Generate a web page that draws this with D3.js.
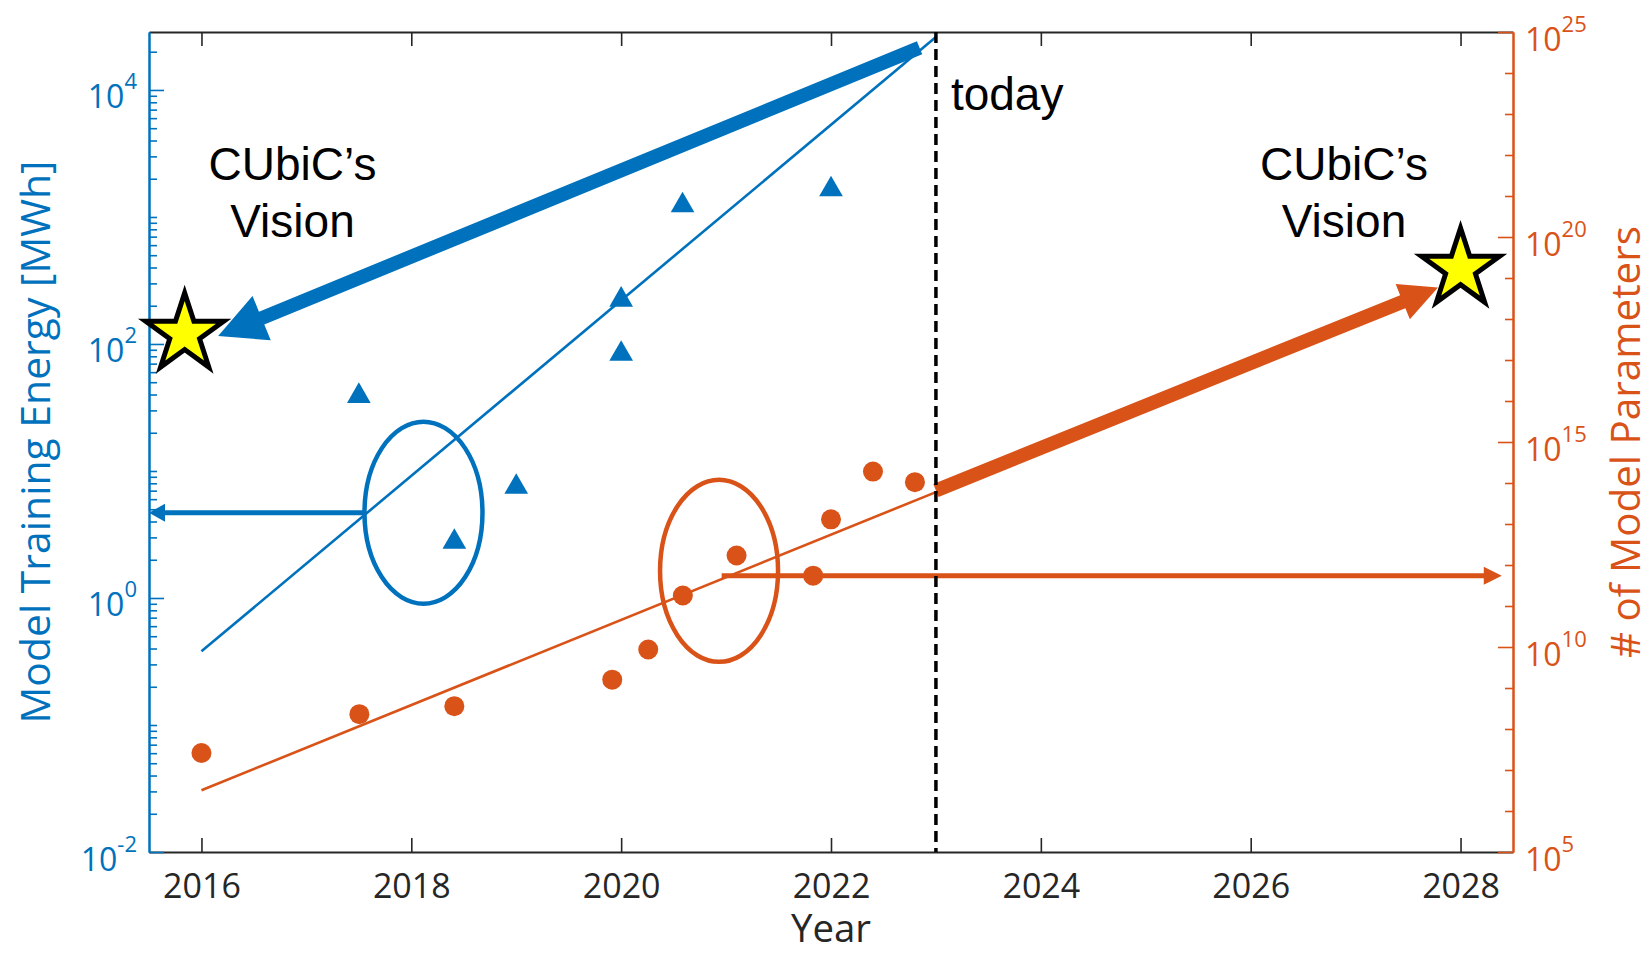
<!DOCTYPE html>
<html>
<head>
<meta charset="utf-8">
<script src="https://cdn.jsdelivr.net/npm/d3@7"></script>
<style>
  html, body { margin: 0; padding: 0; background: #ffffff; }
  svg { display: block; }
</style>
</head>
<body>
<svg id="chart" width="1652" height="955"></svg>
<script>
// ---------------- data ----------------
const xTickYears = [2016, 2018, 2020, 2022, 2024, 2026, 2028];
const energyMajorExps = [-2, 0, 2, 4];
const paramMajorExps = [5, 10, 15, 20, 25];

// Training energy of individual models (MWh)
const energyYears = [2017.5, 2018.41, 2019.0, 2020.0, 2020.0, 2020.585, 2022.0];
const energyMWh   = [41.4, 2.94, 7.96, 237, 89, 1312, 1754];

// Parameter counts of individual models
const paramYears  = [2016.0, 2017.505, 2018.41, 2019.915, 2020.258, 2020.588, 2021.10, 2021.83, 2022.0, 2022.40, 2022.80];
const paramCounts = [2.6e7, 2.3e8, 3.6e8, 1.6e9, 8.7e9, 1.8e11, 1.7e12, 5.5e11, 1.3e13, 1.9e14, 1.05e14];

// Exponential trend lines (end points)
const fitYears  = [2016, 2023];
const energyFit = [0.38, 26100];
const paramFit  = [3.2e6, 6.0e13];

const todayYear = 2023;

// Vision targets (stars)
const energyTarget = [2015.84, 120];
const paramTarget  = [2028.0, 1.66e19];

// Thick arrows from today's trend to the vision targets
const energyArrowYears = [2022.844, 2016.159];
const energyArrowVals  = [21480, 115.6];
const paramArrowYears  = [2023.0, 2027.785];
const paramArrowVals   = [6.6e13, 5.9e18];

// Callout ellipses pointing each trend to its own axis
const energyCalloutYear = 2018.116;
const energyCalloutVal  = 4.69;
const energyPointerYears = [2017.549, 2015.5];
const paramCalloutYear  = 2020.933;
const paramCalloutVal   = 7.2e11;
const paramPointerYears = [2020.958, 2028.393];
const paramPointerVal   = 5.5e11;

// ---------------- layout ----------------
const BLUE = "#0072BD", ORANGE = "#D95319", AXIS = "#262626";
const P = { left: 149, right: 1513, top: 32, bottom: 852 };
const TICK_FONT = "'Open Sans', 'Noto Sans', sans-serif";

const svg = d3.select("#chart");

const x  = d3.scaleLinear().domain([2015.5, 2028.5]).range([P.left, P.right]);
const yE = d3.scaleLog().domain([1e-2, 2.86e4]).range([P.bottom, P.top]);
const yP = d3.scaleLog().domain([1e5, 1e25]).range([P.bottom, P.top]);

// ---------------- axes ----------------
function styleAxis(g, color, width) {
  g.selectAll("path.domain").attr("stroke", color).attr("stroke-width", width);
  g.selectAll(".tick line").attr("stroke", color).attr("stroke-width", 1.6);
}

// bottom and top (box) x axes
const gxB = svg.append("g").attr("transform", `translate(0,${P.bottom})`)
  .call(d3.axisBottom(x).tickValues(xTickYears).tickSizeInner(-14).tickSizeOuter(0)
        .tickPadding(22).tickFormat(d3.format("d")));
styleAxis(gxB, AXIS, 2);
gxB.selectAll("text").attr("fill", AXIS).style("font-family", TICK_FONT).style("font-size", "34px");

const gxT = svg.append("g").attr("transform", `translate(0,${P.top})`)
  .call(d3.axisTop(x).tickValues(xTickYears).tickSizeInner(-14).tickSizeOuter(0).tickFormat(""));
styleAxis(gxT, AXIS, 2);

// left axis: minor ticks for every 1..9 x 10^k, major ticks at even decades
const energyMinor = [];
for (let e = -2; e <= 4; e++) for (let m = 1; m <= 9; m++) {
  const v = m * Math.pow(10, e);
  if (v <= yE.domain()[1] && !(m === 1 && energyMajorExps.includes(e))) energyMinor.push(v);
}
const gyLminor = svg.append("g").attr("transform", `translate(${P.left},0)`)
  .call(d3.axisLeft(yE).tickValues(energyMinor).tickSizeInner(-8).tickSizeOuter(0).tickFormat(""));
styleAxis(gyLminor, BLUE, 2);
const gyL = svg.append("g").attr("transform", `translate(${P.left},0)`)
  .call(d3.axisLeft(yE).tickValues(energyMajorExps.map(e => Math.pow(10, e)))
        .tickSizeInner(-15).tickSizeOuter(0).tickFormat(""));
styleAxis(gyL, BLUE, 2);

// right axis: minor ticks each decade, major every five decades
const paramMinor = d3.range(5, 26).filter(e => !paramMajorExps.includes(e)).map(e => Math.pow(10, e));
const gyRminor = svg.append("g").attr("transform", `translate(${P.right},0)`)
  .call(d3.axisRight(yP).tickValues(paramMinor).tickSizeInner(-8).tickSizeOuter(0).tickFormat(""));
styleAxis(gyRminor, ORANGE, 2);
const gyR = svg.append("g").attr("transform", `translate(${P.right},0)`)
  .call(d3.axisRight(yP).tickValues(paramMajorExps.map(e => Math.pow(10, e)))
        .tickSizeInner(-15).tickSizeOuter(0).tickFormat(""));
styleAxis(gyR, ORANGE, 2);

// power-of-ten labels with superscript exponents
function powLabels(exps, scale, xPos, anchor, color) {
  const t = svg.append("g").selectAll("text").data(exps).join("text")
    .attr("x", xPos)
    .attr("y", e => scale(Math.pow(10, e)) + 18.5)
    .attr("text-anchor", anchor)
    .attr("fill", color)
    .style("font-family", TICK_FONT)
    .style("font-size", "32px");
  t.append("tspan").text("10");
  t.append("tspan").attr("dy", -19).style("font-size", "22px").text(e => String(e));
}
powLabels(energyMajorExps, yE, 137, "end", BLUE);
powLabels(paramMajorExps, yP, 1525, "start", ORANGE);

// axis titles, sized to fill their spans
function axisTitle(text, tx, ty, rot, color, targetLen) {
  const t = svg.append("text")
    .attr("transform", `translate(${tx},${ty}) rotate(${rot})`)
    .attr("text-anchor", "middle")
    .attr("fill", color)
    .style("font-family", TICK_FONT)
    .style("font-size", "40px")
    .text(text);
  if (targetLen) {
    const len = t.node().getComputedTextLength();
    t.style("font-size", (40 * targetLen / len).toFixed(2) + "px");
  }
  return t;
}
axisTitle("Model Training Energy [MWh]", 50, 442, -90, BLUE, 563);
axisTitle("# of Model Parameters", 1640, 442, -90, ORANGE, 432);
axisTitle("Year", (P.left + P.right) / 2, 942, 0, AXIS, 80);

// ---------------- trend lines ----------------
svg.append("path")
  .datum(fitYears.map((yr, i) => [yr, energyFit[i]]))
  .attr("fill", "none").attr("stroke", BLUE).attr("stroke-width", 2.6)
  .attr("d", d3.line().x(d => x(d[0])).y(d => yE(d[1])));
svg.append("path")
  .datum(fitYears.map((yr, i) => [yr, paramFit[i]]))
  .attr("fill", "none").attr("stroke", ORANGE).attr("stroke-width", 2.6)
  .attr("d", d3.line().x(d => x(d[0])).y(d => yP(d[1])));

// ---------------- markers ----------------
const triSize = 243;
const triOffset = Math.sqrt(triSize / (Math.sqrt(3) * 3)) / 2; // centre the triangle's box on the point
svg.append("g").selectAll("path").data(energyYears.map((yr, i) => [yr, energyMWh[i]])).join("path")
  .attr("d", d3.symbol(d3.symbolTriangle, triSize))
  .attr("transform", d => `translate(${x(d[0])},${yE(d[1]) + triOffset})`)
  .attr("fill", BLUE);

svg.append("g").selectAll("circle").data(paramYears.map((yr, i) => [yr, paramCounts[i]])).join("circle")
  .attr("cx", d => x(d[0])).attr("cy", d => yP(d[1])).attr("r", 10)
  .attr("fill", ORANGE);

// ---------------- callouts ----------------
svg.append("ellipse")
  .attr("cx", x(energyCalloutYear)).attr("cy", yE(energyCalloutVal))
  .attr("rx", 59).attr("ry", 91)
  .attr("fill", "none").attr("stroke", BLUE).attr("stroke-width", 4.5);
svg.append("ellipse")
  .attr("cx", x(paramCalloutYear)).attr("cy", yP(paramCalloutVal))
  .attr("rx", 59).attr("ry", 91)
  .attr("fill", "none").attr("stroke", ORANGE).attr("stroke-width", 4.5);

// arrow outline: shaft of width w ending in a triangular head (length L, width hw)
function arrowPath(p0, p1, w, L, hw) {
  const dx = p1[0] - p0[0], dy = p1[1] - p0[1];
  const len = Math.hypot(dx, dy);
  const ux = dx / len, uy = dy / len, nx = -uy, ny = ux;
  const bx = p1[0] - ux * L, by = p1[1] - uy * L;
  const pts = [
    [p0[0] + nx * w / 2, p0[1] + ny * w / 2],
    [bx + nx * w / 2, by + ny * w / 2],
    [bx + nx * hw / 2, by + ny * hw / 2],
    p1,
    [bx - nx * hw / 2, by - ny * hw / 2],
    [bx - nx * w / 2, by - ny * w / 2],
    [p0[0] - nx * w / 2, p0[1] - ny * w / 2]
  ];
  return d3.line()(pts) + "Z";
}

// thin pointers from the callouts to their axes
svg.append("path")
  .attr("d", arrowPath([x(energyPointerYears[0]), yE(energyCalloutVal)],
                       [x(energyPointerYears[1]), yE(energyCalloutVal)], 5, 16, 18))
  .attr("fill", BLUE);
svg.append("path")
  .attr("d", arrowPath([x(paramPointerYears[0]), yP(paramPointerVal)],
                       [x(paramPointerYears[1]), yP(paramPointerVal)], 5, 18, 18))
  .attr("fill", ORANGE);

// thick arrows toward the vision targets
svg.append("path")
  .attr("d", arrowPath([x(energyArrowYears[0]), yE(energyArrowVals[0])],
                       [x(energyArrowYears[1]), yE(energyArrowVals[1])], 14, 47, 48))
  .attr("fill", BLUE);
svg.append("path")
  .attr("d", arrowPath([x(paramArrowYears[0]), yP(paramArrowVals[0])],
                       [x(paramArrowYears[1]), yP(paramArrowVals[1])], 14, 38, 38))
  .attr("fill", ORANGE);

// "today" marker
svg.append("line")
  .attr("x1", x(todayYear)).attr("x2", x(todayYear))
  .attr("y1", P.top).attr("y2", P.bottom)
  .attr("stroke", "#000").attr("stroke-width", 3.5).attr("stroke-dasharray", "11,6");

// vision stars
const starSize = (41 * 41) / 0.8908130915292852;
svg.append("path")
  .attr("d", d3.symbol(d3.symbolStar, starSize))
  .attr("transform", `translate(${x(energyTarget[0])},${yE(energyTarget[1])})`)
  .attr("fill", "#FFFF00").attr("stroke", "#000").attr("stroke-width", 5);
svg.append("path")
  .attr("d", d3.symbol(d3.symbolStar, starSize))
  .attr("transform", `translate(${x(paramTarget[0])},${yP(paramTarget[1])})`)
  .attr("fill", "#FFFF00").attr("stroke", "#000").attr("stroke-width", 5);

// ---------------- annotations ----------------
const NOTE_FONT = "'Liberation Sans', Arial, sans-serif";
svg.append("text")
  .attr("x", x(todayYear) + 15).attr("y", 110)
  .style("font-family", NOTE_FONT).style("font-size", "46px").attr("fill", "#000")
  .text("today");

[[292.5], [1344]].forEach(([cx]) => {
  const t = svg.append("text")
    .attr("text-anchor", "middle")
    .style("font-family", NOTE_FONT).style("font-size", "46px").attr("fill", "#000");
  t.append("tspan").attr("x", cx).attr("y", 180).text("CUbiC\u2019s");
  t.append("tspan").attr("x", cx).attr("y", 236.7).text("Vision");
});
</script>
</body>
</html>
